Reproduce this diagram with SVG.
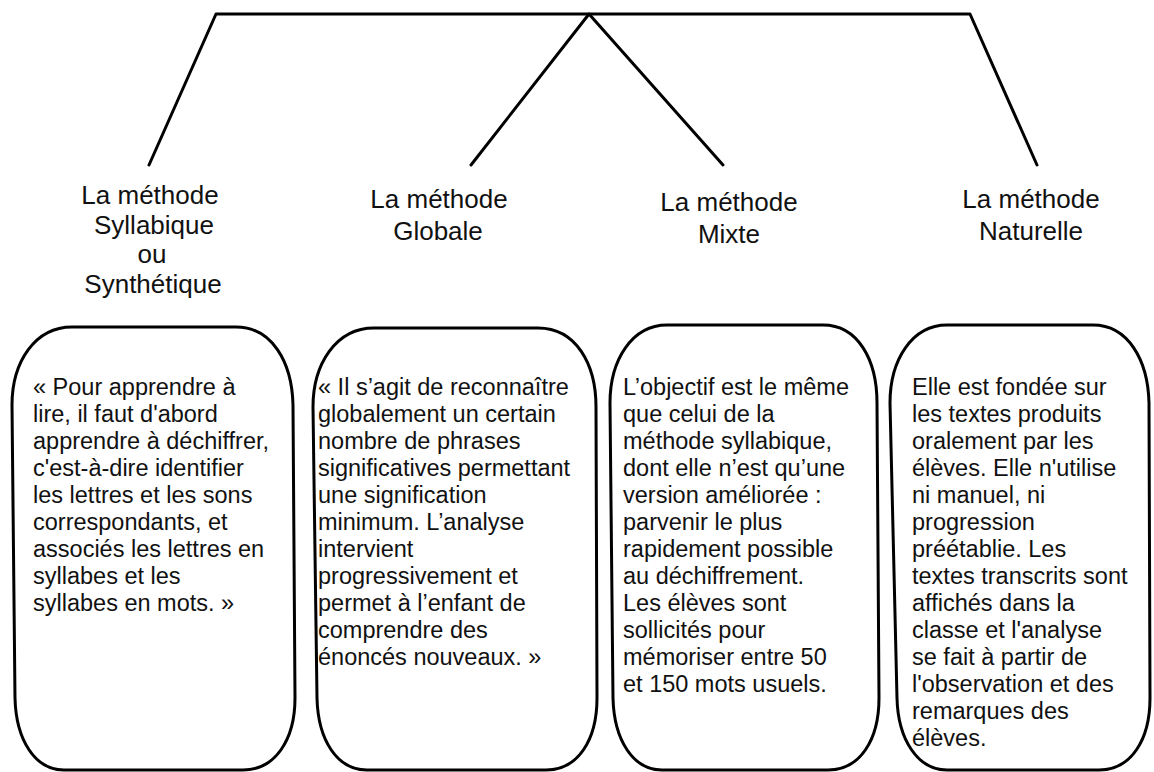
<svg xmlns="http://www.w3.org/2000/svg" width="1154" height="772" viewBox="0 0 1154 772">
<style>
  .ln { fill: none; stroke: #000; stroke-width: 3; stroke-linejoin: round; stroke-linecap: round; }
  .box { fill: #fff; stroke: #000; stroke-width: 3; }
  .title { font-family: "Liberation Sans", Arial, sans-serif; font-size: 26px; fill: #111; text-anchor: middle; }
  .body { font-family: "Liberation Sans", Arial, sans-serif; font-size: 23.5px; fill: #111; }
</style>
<rect width="1154" height="772" fill="#fff"/>
<g id="connectors">
  <polyline class="ln" points="149,165 216,14 970,14 1037,165"/>
  <polyline class="ln" points="471,165 589,14 723,165"/>
</g>
<g id="node-syllabique">
  <text class="title"><tspan x="150" y="204">La méthode</tspan><tspan x="154" y="234">Syllabique</tspan><tspan x="152" y="263">ou</tspan><tspan x="153" y="293">Synthétique</tspan></text>
  <path class="box" d="M72,327 L236,327 C272,327 292,362 293,405 L295,698 C295,740 275,770 243,770 L64,770 C35,770 16,740 15,698 L12,405 C12,362 35,327 72,327 Z"/>
  <text class="body"><tspan x="33" y="395">« Pour apprendre à</tspan><tspan x="33" dy="27">lire, il faut d'abord</tspan><tspan x="33" dy="27">apprendre à déchiffrer,</tspan><tspan x="33" dy="27">c'est-à-dire identifier</tspan><tspan x="33" dy="27">les lettres et les sons</tspan><tspan x="33" dy="27">correspondants, et</tspan><tspan x="33" dy="27">associés les lettres en</tspan><tspan x="33" dy="27">syllabes et les</tspan><tspan x="33" dy="27">syllabes en mots. »</tspan></text>
</g>
<g id="node-globale">
  <text class="title"><tspan x="439" y="208">La méthode</tspan><tspan x="438" y="240">Globale</tspan></text>
  <path class="box" d="M374,328 L538,328 C576,328 596,364 596,407 L597,698 C597,740 578,770 546,770 L367,770 C337,770 318,740 317,698 L313,407 C313,364 336,328 374,328 Z"/>
  <text class="body"><tspan x="318" y="395">« Il s’agit de reconnaître</tspan><tspan x="318" dy="27">globalement un certain</tspan><tspan x="318" dy="27">nombre de phrases</tspan><tspan x="318" dy="27">significatives permettant</tspan><tspan x="318" dy="27">une signification</tspan><tspan x="318" dy="27">minimum. L’analyse</tspan><tspan x="318" dy="27">intervient</tspan><tspan x="318" dy="27">progressivement et</tspan><tspan x="318" dy="27">permet à l’enfant de</tspan><tspan x="318" dy="27">comprendre des</tspan><tspan x="318" dy="27">énoncés nouveaux. »</tspan></text>
</g>
<g id="node-mixte">
  <text class="title"><tspan x="729" y="211">La méthode</tspan><tspan x="729" y="243">Mixte</tspan></text>
  <path class="box" d="M667,325 L823,325 C858,325 877,360 877,403 L879,698 C879,740 860,770 828,770 L662,770 C633,770 614,740 613,698 L610,403 C610,360 632,325 667,325 Z"/>
  <text class="body"><tspan x="623" y="395">L’objectif est le même</tspan><tspan x="623" dy="27">que celui de la</tspan><tspan x="623" dy="27">méthode syllabique,</tspan><tspan x="623" dy="27">dont elle n’est qu’une</tspan><tspan x="623" dy="27">version améliorée :</tspan><tspan x="623" dy="27">parvenir le plus</tspan><tspan x="623" dy="27">rapidement possible</tspan><tspan x="623" dy="27">au déchiffrement.</tspan><tspan x="623" dy="27">Les élèves sont</tspan><tspan x="623" dy="27">sollicités pour</tspan><tspan x="623" dy="27">mémoriser entre 50</tspan><tspan x="623" dy="27">et 150 mots usuels.</tspan></text>
</g>
<g id="node-naturelle">
  <text class="title"><tspan x="1031" y="208">La méthode</tspan><tspan x="1031" y="240">Naturelle</tspan></text>
  <path class="box" d="M947,325 L1093,325 C1128,325 1148,360 1149,403 L1150,698 C1150,740 1131,770 1099,770 L947,770 C918,770 898,740 897,698 L890,403 C890,360 912,325 947,325 Z"/>
  <text class="body"><tspan x="912" y="395">Elle est fondée sur</tspan><tspan x="912" dy="27">les textes produits</tspan><tspan x="912" dy="27">oralement par les</tspan><tspan x="912" dy="27">élèves. Elle n'utilise</tspan><tspan x="912" dy="27">ni manuel, ni</tspan><tspan x="912" dy="27">progression</tspan><tspan x="912" dy="27">préétablie. Les</tspan><tspan x="912" dy="27">textes transcrits sont</tspan><tspan x="912" dy="27">affichés dans la</tspan><tspan x="912" dy="27">classe et l'analyse</tspan><tspan x="912" dy="27">se fait à partir de</tspan><tspan x="912" dy="27">l'observation et des</tspan><tspan x="912" dy="27">remarques des</tspan><tspan x="912" dy="27">élèves.</tspan></text>
</g>
</svg>
